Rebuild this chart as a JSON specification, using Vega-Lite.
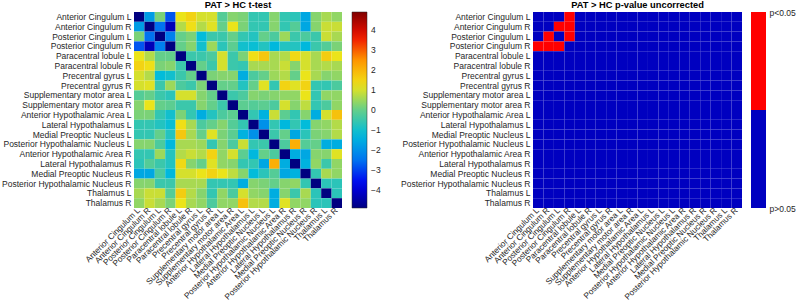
{
  "$schema": "https://vega.github.io/schema/vega-lite/v6.json",
  "padding": {"left": 1, "top": 0, "right": 0, "bottom": 0},
  "config": {
    "font": "Liberation Sans",
    "view": {"stroke": null},
    "axis": {"labelFontSize": 8.5, "labelColor": "#262626", "ticks": false, "domain": false, "labelPadding": 3, "title": null, "grid": false},
    "axisX": {"labelPadding": 1, "labelFontSize": 8.3},
    "title": {"fontSize": 9.3, "fontWeight": "bold", "color": "#000000", "offset": 2}
  },
  "datasets": {
    "names": [
      {"k": 0, "n": "Anterior Cingulum L"}, {"k": 1, "n": "Anterior Cingulum R"}, {"k": 2, "n": "Posterior Cingulum L"}, {"k": 3, "n": "Posterior Cingulum R"},
      {"k": 4, "n": "Paracentral lobule L"}, {"k": 5, "n": "Paracentral lobule R"}, {"k": 6, "n": "Precentral gyrus L"}, {"k": 7, "n": "Precentral gyrus R"},
      {"k": 8, "n": "Supplementary motor area L"}, {"k": 9, "n": "Supplementary motor area R"}, {"k": 10, "n": "Anterior Hypothalamic Area L"}, {"k": 11, "n": "Lateral Hypothalamus L"},
      {"k": 12, "n": "Medial Preoptic Nucleus L"}, {"k": 13, "n": "Posterior Hypothalamic Nucleus L"}, {"k": 14, "n": "Anterior Hypothalamic Area R"}, {"k": 15, "n": "Lateral Hypothalamus R"},
      {"k": 16, "n": "Medial Preoptic Nucleus R"}, {"k": 17, "n": "Posterior Hypothalamic Nucleus R"}, {"k": 18, "n": "Thalamus L"}, {"k": 19, "n": "Thalamus R"}
    ],
    "bar": [{"lo": 0, "hi": 0.5, "s": 0}, {"lo": 0.5, "hi": 1, "s": 1}],
    "cells": [
{"i":0,"j":0,"t":-4.9,"s":0},{"i":0,"j":1,"t":-1.8,"s":0},{"i":0,"j":2,"t":0.2,"s":0},{"i":0,"j":3,"t":-2.8,"s":1},{"i":0,"j":4,"t":1.2,"s":0},{"i":0,"j":5,"t":1.5,"s":0},{"i":0,"j":6,"t":1.0,"s":0},{"i":0,"j":7,"t":1.0,"s":0},{"i":0,"j":8,"t":-0.2,"s":0},{"i":0,"j":9,"t":0.3,"s":0},{"i":0,"j":10,"t":0.2,"s":0},{"i":0,"j":11,"t":-0.6,"s":0},{"i":0,"j":12,"t":-0.6,"s":0},{"i":0,"j":13,"t":0.3,"s":0},{"i":0,"j":14,"t":-0.6,"s":0},{"i":0,"j":15,"t":-0.7,"s":0},{"i":0,"j":16,"t":-1.6,"s":0},{"i":0,"j":17,"t":0.3,"s":0},{"i":0,"j":18,"t":0.6,"s":0},{"i":0,"j":19,"t":0.4,"s":0},
{"i":1,"j":0,"t":-1.8,"s":0},{"i":1,"j":1,"t":-4.9,"s":0},{"i":1,"j":2,"t":-2.5,"s":1},{"i":1,"j":3,"t":-4.3,"s":1},{"i":1,"j":4,"t":0.7,"s":0},{"i":1,"j":5,"t":1.3,"s":0},{"i":1,"j":6,"t":0.7,"s":0},{"i":1,"j":7,"t":1.1,"s":0},{"i":1,"j":8,"t":0.0,"s":0},{"i":1,"j":9,"t":1.2,"s":0},{"i":1,"j":10,"t":0.2,"s":0},{"i":1,"j":11,"t":-0.6,"s":0},{"i":1,"j":12,"t":-0.6,"s":0},{"i":1,"j":13,"t":0.3,"s":0},{"i":1,"j":14,"t":-0.6,"s":0},{"i":1,"j":15,"t":-0.2,"s":0},{"i":1,"j":16,"t":-1.6,"s":0},{"i":1,"j":17,"t":0.3,"s":0},{"i":1,"j":18,"t":0.9,"s":0},{"i":1,"j":19,"t":0.9,"s":0},
{"i":2,"j":0,"t":0.2,"s":0},{"i":2,"j":1,"t":-2.5,"s":1},{"i":2,"j":2,"t":-4.9,"s":0},{"i":2,"j":3,"t":-2.3,"s":1},{"i":2,"j":4,"t":0.0,"s":0},{"i":2,"j":5,"t":0.2,"s":0},{"i":2,"j":6,"t":-1.2,"s":0},{"i":2,"j":7,"t":-0.5,"s":0},{"i":2,"j":8,"t":-0.5,"s":0},{"i":2,"j":9,"t":0.0,"s":0},{"i":2,"j":10,"t":-0.6,"s":0},{"i":2,"j":11,"t":-0.8,"s":0},{"i":2,"j":12,"t":0.0,"s":0},{"i":2,"j":13,"t":-0.3,"s":0},{"i":2,"j":14,"t":0.5,"s":0},{"i":2,"j":15,"t":-0.5,"s":0},{"i":2,"j":16,"t":-0.3,"s":0},{"i":2,"j":17,"t":-0.5,"s":0},{"i":2,"j":18,"t":0.9,"s":0},{"i":2,"j":19,"t":0.6,"s":0},
{"i":3,"j":0,"t":-2.8,"s":1},{"i":3,"j":1,"t":-4.3,"s":1},{"i":3,"j":2,"t":-2.3,"s":1},{"i":3,"j":3,"t":-4.9,"s":0},{"i":3,"j":4,"t":0.0,"s":0},{"i":3,"j":5,"t":0.3,"s":0},{"i":3,"j":6,"t":-1.0,"s":0},{"i":3,"j":7,"t":0.5,"s":0},{"i":3,"j":8,"t":-0.7,"s":0},{"i":3,"j":9,"t":-0.1,"s":0},{"i":3,"j":10,"t":-1.0,"s":0},{"i":3,"j":11,"t":-1.1,"s":0},{"i":3,"j":12,"t":-0.8,"s":0},{"i":3,"j":13,"t":-1.3,"s":0},{"i":3,"j":14,"t":-0.8,"s":0},{"i":3,"j":15,"t":-0.8,"s":0},{"i":3,"j":16,"t":-1.3,"s":0},{"i":3,"j":17,"t":-0.5,"s":0},{"i":3,"j":18,"t":-0.2,"s":0},{"i":3,"j":19,"t":0.2,"s":0},
{"i":4,"j":0,"t":1.2,"s":0},{"i":4,"j":1,"t":0.7,"s":0},{"i":4,"j":2,"t":0.0,"s":0},{"i":4,"j":3,"t":0.0,"s":0},{"i":4,"j":4,"t":-4.9,"s":0},{"i":4,"j":5,"t":-0.5,"s":0},{"i":4,"j":6,"t":-0.5,"s":0},{"i":4,"j":7,"t":-0.3,"s":0},{"i":4,"j":8,"t":1.0,"s":0},{"i":4,"j":9,"t":-0.5,"s":0},{"i":4,"j":10,"t":0.2,"s":0},{"i":4,"j":11,"t":1.3,"s":0},{"i":4,"j":12,"t":1.7,"s":0},{"i":4,"j":13,"t":0.6,"s":0},{"i":4,"j":14,"t":0.7,"s":0},{"i":4,"j":15,"t":1.4,"s":0},{"i":4,"j":16,"t":1.0,"s":0},{"i":4,"j":17,"t":0.6,"s":0},{"i":4,"j":18,"t":1.6,"s":0},{"i":4,"j":19,"t":1.2,"s":0},
{"i":5,"j":0,"t":1.5,"s":0},{"i":5,"j":1,"t":1.3,"s":0},{"i":5,"j":2,"t":0.2,"s":0},{"i":5,"j":3,"t":0.3,"s":0},{"i":5,"j":4,"t":-0.5,"s":0},{"i":5,"j":5,"t":-4.9,"s":0},{"i":5,"j":6,"t":0.0,"s":0},{"i":5,"j":7,"t":-0.5,"s":0},{"i":5,"j":8,"t":1.0,"s":0},{"i":5,"j":9,"t":-0.5,"s":0},{"i":5,"j":10,"t":-0.6,"s":0},{"i":5,"j":11,"t":0.6,"s":0},{"i":5,"j":12,"t":0.6,"s":0},{"i":5,"j":13,"t":0.6,"s":0},{"i":5,"j":14,"t":0.9,"s":0},{"i":5,"j":15,"t":0.3,"s":0},{"i":5,"j":16,"t":1.0,"s":0},{"i":5,"j":17,"t":0.6,"s":0},{"i":5,"j":18,"t":0.7,"s":0},{"i":5,"j":19,"t":0.6,"s":0},
{"i":6,"j":0,"t":1.0,"s":0},{"i":6,"j":1,"t":0.7,"s":0},{"i":6,"j":2,"t":-1.2,"s":0},{"i":6,"j":3,"t":-1.0,"s":0},{"i":6,"j":4,"t":-0.5,"s":0},{"i":6,"j":5,"t":0.0,"s":0},{"i":6,"j":6,"t":-4.9,"s":0},{"i":6,"j":7,"t":0.2,"s":0},{"i":6,"j":8,"t":0.3,"s":0},{"i":6,"j":9,"t":0.3,"s":0},{"i":6,"j":10,"t":-1.5,"s":0},{"i":6,"j":11,"t":-0.3,"s":0},{"i":6,"j":12,"t":0.0,"s":0},{"i":6,"j":13,"t":0.5,"s":0},{"i":6,"j":14,"t":0.7,"s":0},{"i":6,"j":15,"t":0.0,"s":0},{"i":6,"j":16,"t":1.2,"s":0},{"i":6,"j":17,"t":0.6,"s":0},{"i":6,"j":18,"t":0.3,"s":0},{"i":6,"j":19,"t":0.4,"s":0},
{"i":7,"j":0,"t":1.0,"s":0},{"i":7,"j":1,"t":1.1,"s":0},{"i":7,"j":2,"t":-0.5,"s":0},{"i":7,"j":3,"t":0.5,"s":0},{"i":7,"j":4,"t":-0.3,"s":0},{"i":7,"j":5,"t":-0.5,"s":0},{"i":7,"j":6,"t":0.2,"s":0},{"i":7,"j":7,"t":-4.9,"s":0},{"i":7,"j":8,"t":0.0,"s":0},{"i":7,"j":9,"t":0.0,"s":0},{"i":7,"j":10,"t":-0.8,"s":0},{"i":7,"j":11,"t":0.0,"s":0},{"i":7,"j":12,"t":1.1,"s":0},{"i":7,"j":13,"t":-0.6,"s":0},{"i":7,"j":14,"t":1.5,"s":0},{"i":7,"j":15,"t":1.1,"s":0},{"i":7,"j":16,"t":1.5,"s":0},{"i":7,"j":17,"t":-0.6,"s":0},{"i":7,"j":18,"t":-0.6,"s":0},{"i":7,"j":19,"t":-0.3,"s":0},
{"i":8,"j":0,"t":-0.2,"s":0},{"i":8,"j":1,"t":0.0,"s":0},{"i":8,"j":2,"t":-0.5,"s":0},{"i":8,"j":3,"t":-0.7,"s":0},{"i":8,"j":4,"t":1.0,"s":0},{"i":8,"j":5,"t":1.0,"s":0},{"i":8,"j":6,"t":0.3,"s":0},{"i":8,"j":7,"t":0.0,"s":0},{"i":8,"j":8,"t":-4.9,"s":0},{"i":8,"j":9,"t":-0.5,"s":0},{"i":8,"j":10,"t":-0.3,"s":0},{"i":8,"j":11,"t":0.3,"s":0},{"i":8,"j":12,"t":0.2,"s":0},{"i":8,"j":13,"t":0.3,"s":0},{"i":8,"j":14,"t":0.4,"s":0},{"i":8,"j":15,"t":0.4,"s":0},{"i":8,"j":16,"t":1.2,"s":0},{"i":8,"j":17,"t":-0.6,"s":0},{"i":8,"j":18,"t":0.4,"s":0},{"i":8,"j":19,"t":0.4,"s":0},
{"i":9,"j":0,"t":0.3,"s":0},{"i":9,"j":1,"t":1.2,"s":0},{"i":9,"j":2,"t":0.0,"s":0},{"i":9,"j":3,"t":-0.1,"s":0},{"i":9,"j":4,"t":-0.5,"s":0},{"i":9,"j":5,"t":-0.5,"s":0},{"i":9,"j":6,"t":0.3,"s":0},{"i":9,"j":7,"t":0.0,"s":0},{"i":9,"j":8,"t":-0.5,"s":0},{"i":9,"j":9,"t":-4.9,"s":0},{"i":9,"j":10,"t":-0.1,"s":0},{"i":9,"j":11,"t":-0.2,"s":0},{"i":9,"j":12,"t":-0.1,"s":0},{"i":9,"j":13,"t":-0.3,"s":0},{"i":9,"j":14,"t":1.0,"s":0},{"i":9,"j":15,"t":0.3,"s":0},{"i":9,"j":16,"t":0.8,"s":0},{"i":9,"j":17,"t":-0.6,"s":0},{"i":9,"j":18,"t":-0.3,"s":0},{"i":9,"j":19,"t":0.4,"s":0},
{"i":10,"j":0,"t":0.2,"s":0},{"i":10,"j":1,"t":0.2,"s":0},{"i":10,"j":2,"t":-0.6,"s":0},{"i":10,"j":3,"t":-1.0,"s":0},{"i":10,"j":4,"t":0.2,"s":0},{"i":10,"j":5,"t":-0.6,"s":0},{"i":10,"j":6,"t":-1.5,"s":0},{"i":10,"j":7,"t":-0.8,"s":0},{"i":10,"j":8,"t":-0.3,"s":0},{"i":10,"j":9,"t":-0.1,"s":0},{"i":10,"j":10,"t":-4.9,"s":0},{"i":10,"j":11,"t":-0.6,"s":0},{"i":10,"j":12,"t":-1.4,"s":0},{"i":10,"j":13,"t":0.9,"s":0},{"i":10,"j":14,"t":-0.1,"s":0},{"i":10,"j":15,"t":-0.6,"s":0},{"i":10,"j":16,"t":0.3,"s":0},{"i":10,"j":17,"t":-1.5,"s":0},{"i":10,"j":18,"t":1.0,"s":0},{"i":10,"j":19,"t":1.8,"s":0},
{"i":11,"j":0,"t":-0.6,"s":0},{"i":11,"j":1,"t":-0.6,"s":0},{"i":11,"j":2,"t":-0.8,"s":0},{"i":11,"j":3,"t":-1.1,"s":0},{"i":11,"j":4,"t":1.3,"s":0},{"i":11,"j":5,"t":0.6,"s":0},{"i":11,"j":6,"t":-0.3,"s":0},{"i":11,"j":7,"t":0.0,"s":0},{"i":11,"j":8,"t":0.3,"s":0},{"i":11,"j":9,"t":-0.2,"s":0},{"i":11,"j":10,"t":-0.6,"s":0},{"i":11,"j":11,"t":-4.9,"s":0},{"i":11,"j":12,"t":-2.0,"s":0},{"i":11,"j":13,"t":-0.6,"s":0},{"i":11,"j":14,"t":-1.3,"s":0},{"i":11,"j":15,"t":-0.6,"s":0},{"i":11,"j":16,"t":-1.2,"s":0},{"i":11,"j":17,"t":0.3,"s":0},{"i":11,"j":18,"t":0.4,"s":0},{"i":11,"j":19,"t":0.7,"s":0},
{"i":12,"j":0,"t":-0.6,"s":0},{"i":12,"j":1,"t":-0.6,"s":0},{"i":12,"j":2,"t":0.0,"s":0},{"i":12,"j":3,"t":-0.8,"s":0},{"i":12,"j":4,"t":1.7,"s":0},{"i":12,"j":5,"t":0.6,"s":0},{"i":12,"j":6,"t":0.0,"s":0},{"i":12,"j":7,"t":1.1,"s":0},{"i":12,"j":8,"t":0.2,"s":0},{"i":12,"j":9,"t":-0.1,"s":0},{"i":12,"j":10,"t":-1.4,"s":0},{"i":12,"j":11,"t":-2.0,"s":0},{"i":12,"j":12,"t":-4.9,"s":0},{"i":12,"j":13,"t":-0.5,"s":0},{"i":12,"j":14,"t":0.0,"s":0},{"i":12,"j":15,"t":-1.6,"s":0},{"i":12,"j":16,"t":-0.7,"s":0},{"i":12,"j":17,"t":0.2,"s":0},{"i":12,"j":18,"t":0.3,"s":0},{"i":12,"j":19,"t":0.7,"s":0},
{"i":13,"j":0,"t":0.3,"s":0},{"i":13,"j":1,"t":0.3,"s":0},{"i":13,"j":2,"t":-0.3,"s":0},{"i":13,"j":3,"t":-1.3,"s":0},{"i":13,"j":4,"t":0.6,"s":0},{"i":13,"j":5,"t":0.6,"s":0},{"i":13,"j":6,"t":0.5,"s":0},{"i":13,"j":7,"t":-0.6,"s":0},{"i":13,"j":8,"t":0.3,"s":0},{"i":13,"j":9,"t":-0.3,"s":0},{"i":13,"j":10,"t":0.9,"s":0},{"i":13,"j":11,"t":-0.6,"s":0},{"i":13,"j":12,"t":-0.5,"s":0},{"i":13,"j":13,"t":-4.9,"s":0},{"i":13,"j":14,"t":-0.3,"s":0},{"i":13,"j":15,"t":2.1,"s":0},{"i":13,"j":16,"t":-0.2,"s":0},{"i":13,"j":17,"t":0.0,"s":0},{"i":13,"j":18,"t":-1.5,"s":0},{"i":13,"j":19,"t":-1.5,"s":0},
{"i":14,"j":0,"t":-0.6,"s":0},{"i":14,"j":1,"t":-0.6,"s":0},{"i":14,"j":2,"t":0.5,"s":0},{"i":14,"j":3,"t":-0.8,"s":0},{"i":14,"j":4,"t":0.7,"s":0},{"i":14,"j":5,"t":0.9,"s":0},{"i":14,"j":6,"t":0.7,"s":0},{"i":14,"j":7,"t":1.5,"s":0},{"i":14,"j":8,"t":0.4,"s":0},{"i":14,"j":9,"t":1.0,"s":0},{"i":14,"j":10,"t":-0.1,"s":0},{"i":14,"j":11,"t":-1.3,"s":0},{"i":14,"j":12,"t":0.0,"s":0},{"i":14,"j":13,"t":-0.3,"s":0},{"i":14,"j":14,"t":-4.9,"s":0},{"i":14,"j":15,"t":-1.5,"s":0},{"i":14,"j":16,"t":-1.6,"s":0},{"i":14,"j":17,"t":0.3,"s":0},{"i":14,"j":18,"t":0.3,"s":0},{"i":14,"j":19,"t":1.1,"s":0},
{"i":15,"j":0,"t":-0.7,"s":0},{"i":15,"j":1,"t":-0.2,"s":0},{"i":15,"j":2,"t":-0.5,"s":0},{"i":15,"j":3,"t":-0.8,"s":0},{"i":15,"j":4,"t":1.4,"s":0},{"i":15,"j":5,"t":0.3,"s":0},{"i":15,"j":6,"t":0.0,"s":0},{"i":15,"j":7,"t":1.1,"s":0},{"i":15,"j":8,"t":0.4,"s":0},{"i":15,"j":9,"t":0.3,"s":0},{"i":15,"j":10,"t":-0.6,"s":0},{"i":15,"j":11,"t":-0.6,"s":0},{"i":15,"j":12,"t":-1.6,"s":0},{"i":15,"j":13,"t":2.1,"s":0},{"i":15,"j":14,"t":-1.5,"s":0},{"i":15,"j":15,"t":-4.9,"s":0},{"i":15,"j":16,"t":-1.4,"s":0},{"i":15,"j":17,"t":0.4,"s":0},{"i":15,"j":18,"t":-0.5,"s":0},{"i":15,"j":19,"t":0.4,"s":0},
{"i":16,"j":0,"t":-1.6,"s":0},{"i":16,"j":1,"t":-1.6,"s":0},{"i":16,"j":2,"t":-0.3,"s":0},{"i":16,"j":3,"t":-1.3,"s":0},{"i":16,"j":4,"t":1.0,"s":0},{"i":16,"j":5,"t":1.0,"s":0},{"i":16,"j":6,"t":1.2,"s":0},{"i":16,"j":7,"t":1.5,"s":0},{"i":16,"j":8,"t":1.2,"s":0},{"i":16,"j":9,"t":0.8,"s":0},{"i":16,"j":10,"t":0.3,"s":0},{"i":16,"j":11,"t":-1.2,"s":0},{"i":16,"j":12,"t":-0.7,"s":0},{"i":16,"j":13,"t":-0.2,"s":0},{"i":16,"j":14,"t":-1.6,"s":0},{"i":16,"j":15,"t":-1.4,"s":0},{"i":16,"j":16,"t":-4.9,"s":0},{"i":16,"j":17,"t":-0.6,"s":0},{"i":16,"j":18,"t":0.6,"s":0},{"i":16,"j":19,"t":0.4,"s":0},
{"i":17,"j":0,"t":0.3,"s":0},{"i":17,"j":1,"t":0.3,"s":0},{"i":17,"j":2,"t":-0.5,"s":0},{"i":17,"j":3,"t":-0.5,"s":0},{"i":17,"j":4,"t":0.6,"s":0},{"i":17,"j":5,"t":0.6,"s":0},{"i":17,"j":6,"t":0.6,"s":0},{"i":17,"j":7,"t":-0.6,"s":0},{"i":17,"j":8,"t":-0.6,"s":0},{"i":17,"j":9,"t":-0.6,"s":0},{"i":17,"j":10,"t":-1.5,"s":0},{"i":17,"j":11,"t":0.3,"s":0},{"i":17,"j":12,"t":0.2,"s":0},{"i":17,"j":13,"t":0.0,"s":0},{"i":17,"j":14,"t":0.3,"s":0},{"i":17,"j":15,"t":0.4,"s":0},{"i":17,"j":16,"t":-0.6,"s":0},{"i":17,"j":17,"t":-4.9,"s":0},{"i":17,"j":18,"t":-0.7,"s":0},{"i":17,"j":19,"t":-0.7,"s":0},
{"i":18,"j":0,"t":0.6,"s":0},{"i":18,"j":1,"t":0.9,"s":0},{"i":18,"j":2,"t":0.9,"s":0},{"i":18,"j":3,"t":-0.2,"s":0},{"i":18,"j":4,"t":1.6,"s":0},{"i":18,"j":5,"t":0.7,"s":0},{"i":18,"j":6,"t":0.3,"s":0},{"i":18,"j":7,"t":-0.6,"s":0},{"i":18,"j":8,"t":0.4,"s":0},{"i":18,"j":9,"t":-0.3,"s":0},{"i":18,"j":10,"t":1.0,"s":0},{"i":18,"j":11,"t":0.4,"s":0},{"i":18,"j":12,"t":0.3,"s":0},{"i":18,"j":13,"t":-1.5,"s":0},{"i":18,"j":14,"t":0.3,"s":0},{"i":18,"j":15,"t":-0.5,"s":0},{"i":18,"j":16,"t":0.6,"s":0},{"i":18,"j":17,"t":-0.7,"s":0},{"i":18,"j":18,"t":-4.9,"s":0},{"i":18,"j":19,"t":-0.7,"s":0},
{"i":19,"j":0,"t":0.4,"s":0},{"i":19,"j":1,"t":0.9,"s":0},{"i":19,"j":2,"t":0.6,"s":0},{"i":19,"j":3,"t":0.2,"s":0},{"i":19,"j":4,"t":1.2,"s":0},{"i":19,"j":5,"t":0.6,"s":0},{"i":19,"j":6,"t":0.4,"s":0},{"i":19,"j":7,"t":-0.3,"s":0},{"i":19,"j":8,"t":0.4,"s":0},{"i":19,"j":9,"t":0.4,"s":0},{"i":19,"j":10,"t":1.8,"s":0},{"i":19,"j":11,"t":0.7,"s":0},{"i":19,"j":12,"t":0.7,"s":0},{"i":19,"j":13,"t":-1.5,"s":0},{"i":19,"j":14,"t":1.1,"s":0},{"i":19,"j":15,"t":0.4,"s":0},{"i":19,"j":16,"t":0.4,"s":0},{"i":19,"j":17,"t":-0.7,"s":0},{"i":19,"j":18,"t":-0.7,"s":0},{"i":19,"j":19,"t":-4.9,"s":0}
    ]
  },
  "bounds": "flush",
  "spacing": 191,
  "resolve": {"scale": {"color": "independent"}, "legend": {"color": "independent"}},
  "hconcat": [
    {
      "data": {"name": "cells"},
      "transform": [
        {"lookup": "i", "from": {"data": {"name": "names"}, "key": "k", "fields": ["n"]}, "as": ["rn"]},
        {"lookup": "j", "from": {"data": {"name": "names"}, "key": "k", "fields": ["n"]}, "as": ["cn"]}
      ],
      "title": {"text": "PAT > HC t-test"},
      "width": 208,
      "height": 196,
      "mark": {"type": "rect"},
      "encoding": {
        "x": {"field": "cn", "type": "nominal", "sort": {"field": "j", "op": "min"}, "axis": {"labelAngle": -45, "labelAlign": "right", "labelBaseline": "middle"}},
        "y": {"field": "rn", "type": "nominal", "sort": {"field": "i", "op": "min"}},
        "color": {
          "field": "t", "type": "quantitative",
          "scale": {"domain": [-4.9, -3.675, -2.45, -1.225, 0, 1.225, 2.45, 3.675, 4.9], "range": ["#000080", "#0000f0", "#0078f0", "#00bcdc", "#64cf8a", "#eee418", "#ff9a00", "#f01000", "#800000"], "interpolate": "rgb"},
          "legend": {"title": null, "orient": "right", "direction": "vertical", "values": [-4, -3, -2, -1, 0, 1, 2, 3, 4], "gradientLength": 196, "gradientThickness": 15, "offset": 10, "padding": 0, "labelOffset": 4, "labelFontSize": 8.5, "labelColor": "#262626", "labelOverlap": false, "gradientStrokeColor": "#262626", "gradientStrokeWidth": 0.5}
        }
      }
    },
    {
      "bounds": "flush",
      "spacing": 9,
      "hconcat": [
        {
          "data": {"name": "cells"},
          "transform": [
            {"lookup": "i", "from": {"data": {"name": "names"}, "key": "k", "fields": ["n"]}, "as": ["rn"]},
            {"lookup": "j", "from": {"data": {"name": "names"}, "key": "k", "fields": ["n"]}, "as": ["cn"]}
          ],
          "title": {"text": "PAT > HC p-value uncorrected"},
          "width": 209,
          "height": 196,
          "mark": {"type": "rect"},
          "encoding": {
            "x": {"field": "cn", "type": "nominal", "sort": {"field": "j", "op": "min"}, "axis": {"labelAngle": -45, "labelAlign": "right", "labelBaseline": "middle"}},
            "y": {"field": "rn", "type": "nominal", "sort": {"field": "i", "op": "min"}},
            "color": {"field": "s", "type": "nominal", "scale": {"domain": [0, 1], "range": ["#0000c0", "#ff0000"]}, "legend": null}
          }
        },
        {
          "data": {"name": "bar"},
          "width": 15,
          "height": 196,
          "mark": {"type": "rect"},
          "encoding": {
            "y": {"field": "lo", "type": "quantitative", "scale": {"domain": [0, 1], "nice": false}, "axis": {"orient": "right", "values": [0, 1], "labelExpr": "datum.value == 1 ? 'p<0.05' : 'p>0.05'", "labelFlush": false, "labelPadding": 3}},
            "y2": {"field": "hi"},
            "color": {"field": "s", "type": "nominal", "scale": {"domain": [0, 1], "range": ["#0000c0", "#ff0000"]}, "legend": null}
          }
        }
      ]
    }
  ]
}
